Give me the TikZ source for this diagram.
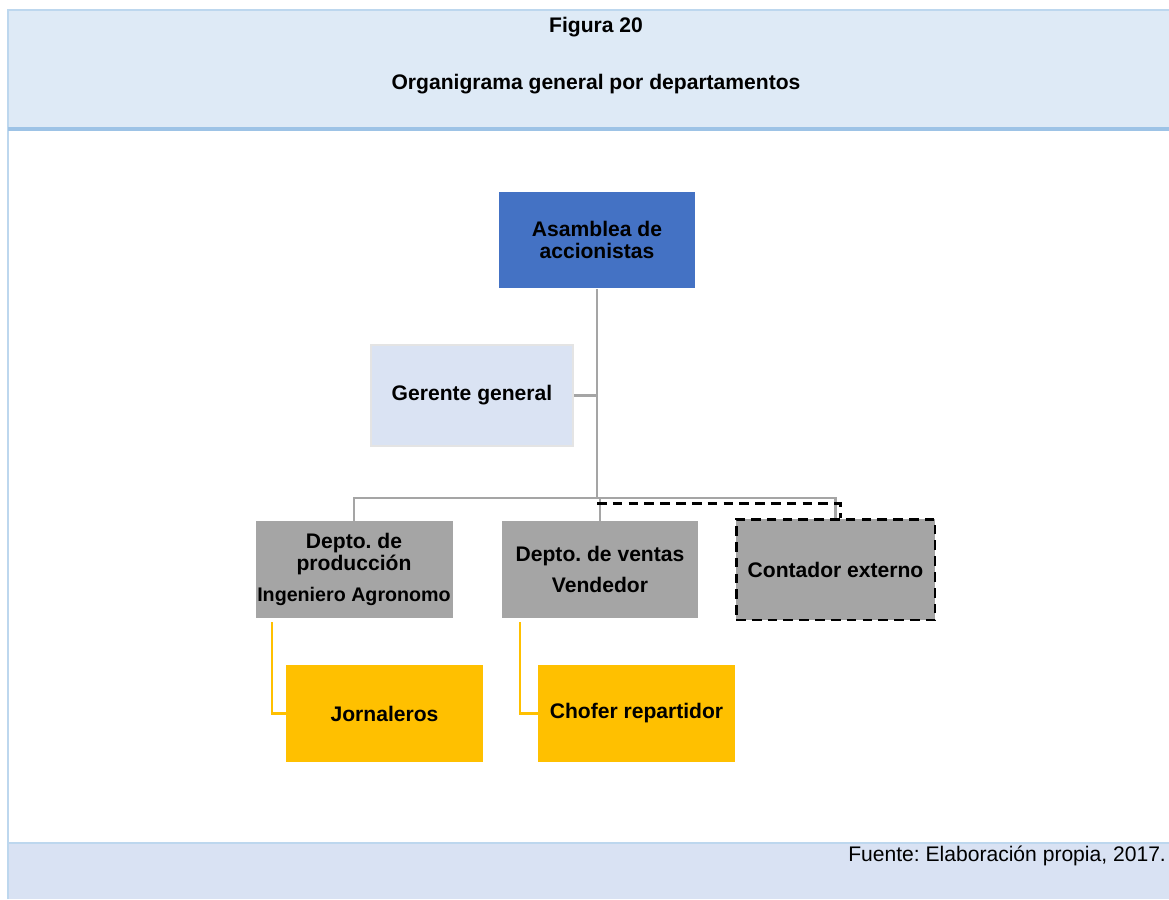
\documentclass[tikz,border=0pt]{standalone}
\usepackage{fontspec}
\setmainfont{Liberation Sans}
\frenchspacing
\definecolor{azulCab}{HTML}{DEEAF6}
\definecolor{azulPie}{HTML}{D9E2F3}
\definecolor{bordeClaro}{HTML}{BDD7EE}
\definecolor{bordeAzul}{HTML}{9DC3E6}
\definecolor{azulFuerte}{HTML}{4472C4}
\definecolor{azulSuave}{HTML}{DAE3F3}
\definecolor{grisCaja}{HTML}{A5A5A5}
\definecolor{grisBorde}{HTML}{E4E4E4}
\definecolor{amarillo}{HTML}{FFC000}

\begin{document}
\begin{tikzpicture}[x=0.02cm, y=-0.02cm,
  caja/.style={minimum width=3.92cm, minimum height=1.94cm, inner sep=1pt,
    align=center, font=\fontsize{12}{12.5}\selectfont\bfseries},
  titulo/.style={font=\fontsize{12}{14}\selectfont\bfseries},
  linea/.style={draw=grisCaja, line width=1.6pt},
  punteada/.style={draw=black, line width=1.7pt, dash pattern=on 5.5pt off 3.5pt},
  amarilla/.style={draw=amarillo, line width=1.3pt}]
\useasboundingbox (0,0) rectangle (1169,899);

% Marco
\fill[azulCab] (8,10) rectangle (1169,130);
\fill[azulPie] (8,843) rectangle (1169,899);
\draw[bordeClaro, line width=0.8pt] (8,899) -- (8,10) -- (1169,10);
\draw[bordeAzul, line width=2.2pt] (8,129) -- (1169,129);
\draw[bordeClaro, line width=1pt] (8,843) -- (1169,843);

% Titulos
\node[titulo] (fig) at (596,27) {Figura 20};
\node[titulo] (org) at (596,84) {Organigrama general por departamentos};
\node[font=\fontsize{12}{14}\selectfont, anchor=east, inner sep=1pt] (fuente) at (1168,856) {Fuente: Elaboración propia, 2017.};

% Cajas
\node[caja, fill=azulFuerte] (asamblea) at (597,240) {Asamblea de\\accionistas};
\node[caja, fill=azulSuave, draw=grisBorde, line width=1pt, minimum width=4.04cm, minimum height=2.02cm] (gerente) at (472,395.5) {Gerente general};
\node[caja, fill=grisCaja] (prod) at (354,569.5) {Depto. de\\producción\\[5pt]{\fontsize{11.2}{12.5}\selectfont Ingeniero Agronomo}};
\node[caja, fill=grisCaja] (ventas) at (600,569.5) {Depto. de ventas\\[5pt]Vendedor};
\node[caja, fill=grisCaja, punteada, minimum width=3.98cm, minimum height=2.02cm] (contador) at (835.5,569.5) {Contador externo};
\node[caja, fill=amarillo, minimum width=3.94cm] (jornaleros) at (384.5,713.5) {Jornaleros};
\node[caja, fill=amarillo, minimum width=3.94cm] (chofer) at (636.5,713.5) {Chofer repartidor};

% Conectores
\coordinate (barra) at (597,498);
\draw[linea] (asamblea.south) -- (barra);
\draw[linea] (gerente.east) -- (gerente.east -| barra);
\draw[linea] (prod.north) |- (barra);
\draw[linea] (ventas.north) -- (ventas.north |- barra);
\draw[linea] (contador.north) |- (barra);
\draw[punteada] ([yshift=-0.1cm]barra) -| ([xshift=0.09cm]contador.north);
\draw[amarilla] ([xshift=0.34cm, yshift=-0.08cm]prod.south west) |- (jornaleros.west);
\draw[amarilla] ([xshift=0.36cm, yshift=-0.08cm]ventas.south west) |- (chofer.west);
\end{tikzpicture}
\end{document}
